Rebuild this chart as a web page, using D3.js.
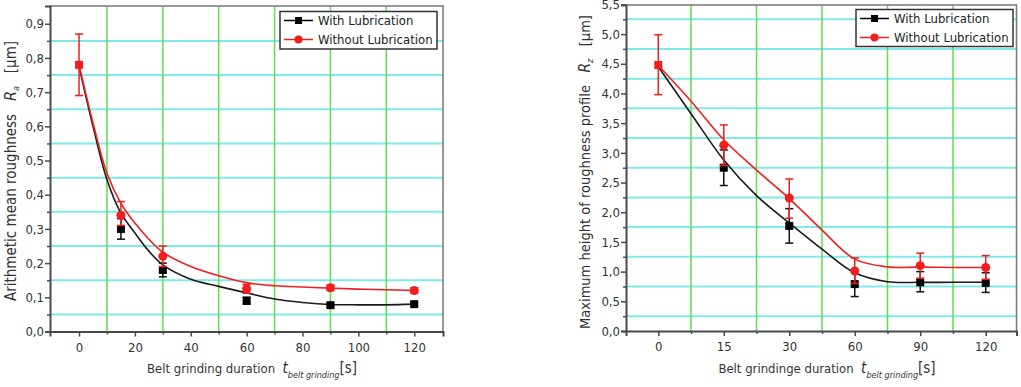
<!DOCTYPE html>
<html><head><meta charset="utf-8">
<script src="https://cdn.jsdelivr.net/npm/d3@7"></script>
<style>
body{margin:0;background:#fff;}
svg{display:block;font-family:"DejaVu Sans Condensed","DejaVu Sans",sans-serif;}
text{white-space:pre;}
</style></head><body>
<svg id="c" width="1021" height="387"></svg>
<script>
// ---------- Left chart: Ra ----------
const raX = [0, 15, 30, 60, 90, 120];
const raWith = [0.78, 0.30, 0.18, 0.09, 0.077, 0.08];
const raWithLo = [0.78, 0.27, 0.16, 0.08, 0.072, 0.075];
const raWithHi = [0.78, 0.33, 0.20, 0.10, 0.082, 0.085];
const raWithout = [0.78, 0.34, 0.22, 0.125, 0.128, 0.12];
const raWithoutLo = [0.69, 0.31, 0.19, 0.112, 0.12, 0.112];
const raWithoutHi = [0.87, 0.38, 0.25, 0.138, 0.136, 0.128];
const raFitX = [0, 5, 10, 15, 20, 25, 30, 40, 50, 60, 70, 80, 90, 100, 110, 120];
const raFitWith = [0.775, 0.60, 0.444, 0.346, 0.288, 0.235, 0.195, 0.153, 0.132, 0.113, 0.095, 0.085, 0.079, 0.078, 0.078, 0.08];
const raFitWithout = [0.78, 0.61, 0.463, 0.375, 0.317, 0.27, 0.232, 0.19, 0.163, 0.143, 0.134, 0.13, 0.127, 0.124, 0.122, 0.12];
const raYTicks = [0, 0.1, 0.2, 0.3, 0.4, 0.5, 0.6, 0.7, 0.8, 0.9];
const raXTicks = [0, 20, 40, 60, 80, 100, 120];

// ---------- Right chart: Rz ----------
const rzCats = ["0", "15", "30", "60", "90", "120"];
const rzWith = [4.48, 2.75, 1.77, 0.79, 0.82, 0.81];
const rzWithLo = [4.48, 2.45, 1.48, 0.58, 0.66, 0.65];
const rzWithHi = [4.48, 3.05, 2.06, 1.02, 1.0, 0.98];
const rzWithout = [4.48, 3.13, 2.24, 1.01, 1.10, 1.07];
const rzWithoutLo = [3.98, 2.79, 1.90, 0.80, 0.89, 0.87];
const rzWithoutHi = [4.99, 3.47, 2.56, 1.23, 1.31, 1.27];
const rzFitIdx = [0, 0.5, 1, 1.5, 2, 2.5, 3, 3.5, 4, 4.5, 5];
const rzFitWith = [4.45, 3.66, 2.88, 2.28, 1.82, 1.38, 0.98, 0.83, 0.82, 0.82, 0.82];
const rzFitWithout = [4.47, 3.87, 3.22, 2.71, 2.23, 1.70, 1.21, 1.08, 1.075, 1.07, 1.07];
const rzYTicks = [0, 0.5, 1, 1.5, 2, 2.5, 3, 3.5, 4, 4.5, 5, 5.5];

const seriesNames = ["With Lubrication", "Without Lubrication"];

const svg = d3.select("#c");
const CYAN = "#7eeaea", GREEN = "#5ede4e", FRAME = "#4a4a4a", RED = "#f21d1d";
const fmt = d => d3.format(".1f")(d).replace(".", ",");

function chart(cfg) {
  const {left, right, top, bottom, xDomain, yDomain} = cfg;
  const x = d3.scaleLinear().domain(xDomain).range([left, right]);
  const y = d3.scaleLinear().domain(yDomain).range([bottom, top]);
  const g = svg.append("g");

  // grids
  g.selectAll(".hg").data(cfg.hGrid).join("line")
    .attr("x1", left).attr("x2", right).attr("y1", d => y(d)).attr("y2", d => y(d))
    .attr("stroke", CYAN).attr("stroke-width", 2);
  g.selectAll(".vg").data(cfg.vGrid).join("line")
    .attr("y1", top).attr("y2", bottom).attr("x1", d => x(d)).attr("x2", d => x(d))
    .attr("stroke", GREEN).attr("stroke-width", 1.5);

  // frame top/right
  g.append("path").attr("d", `M${left},${top}H${right}V${bottom}`)
    .attr("fill", "none").attr("stroke", "#777").attr("stroke-width", 1.5);

  // y axis
  const ya = d3.axisLeft(y).tickValues(cfg.yTicks).tickFormat(fmt).tickSize(5).tickPadding(1);
  const yg = g.append("g").attr("transform", `translate(${left},0)`).call(ya);
  yg.select(".domain").attr("stroke", FRAME).attr("stroke-width", 2);
  yg.selectAll(".tick line").attr("stroke", FRAME).attr("stroke-width", 1.5);
  yg.selectAll("text").attr("font-size", 13).attr("fill", "#333")
    .attr("font-family", "DejaVu Sans Condensed");
  const yam = d3.axisLeft(y).tickValues(cfg.hGrid).tickFormat("").tickSize(3);
  const ymg = g.append("g").attr("transform", `translate(${left},0)`).call(yam);
  ymg.select(".domain").remove();
  ymg.selectAll(".tick line").attr("stroke", FRAME).attr("stroke-width", 1.5);

  // x axis
  const xa = d3.axisBottom(x).tickValues(cfg.xTicks).tickFormat(cfg.xFmt).tickSize(5).tickPadding(6);
  const xg = g.append("g").attr("transform", `translate(0,${bottom})`).call(xa);
  xg.select(".domain").attr("stroke", FRAME).attr("stroke-width", 2);
  xg.selectAll(".tick line").attr("stroke", FRAME).attr("stroke-width", 1.5);
  xg.selectAll("text").attr("font-size", 13).attr("fill", "#333")
    .attr("font-family", "DejaVu Sans Condensed");
  const xam = d3.axisBottom(x).tickValues(cfg.vGrid).tickFormat("").tickSize(3);
  const xmg = g.append("g").attr("transform", `translate(0,${bottom})`).call(xam);
  xmg.select(".domain").remove();
  xmg.selectAll(".tick line").attr("stroke", FRAME).attr("stroke-width", 1.5);

  // fit curves
  const line = d3.line().x(d => x(d[0])).y(d => y(d[1])).curve(d3.curveCatmullRom.alpha(0.5));
  const fw = cfg.fitX.map((v, i) => [v, cfg.fitWith[i]]);
  const fo = cfg.fitX.map((v, i) => [v, cfg.fitWithout[i]]);
  g.append("path").attr("d", line(fw)).attr("fill", "none").attr("stroke", "#1a1a1a").attr("stroke-width", 1.6);
  g.append("path").attr("d", line(fo)).attr("fill", "none").attr("stroke", RED).attr("stroke-width", 1.6);

  // error bars + markers
  function errs(xs, lo, hi, color) {
    const data = xs.map((v, i) => ({x: v, lo: lo[i], hi: hi[i]})).filter(d => d.hi > d.lo);
    const eg = g.append("g").attr("stroke", color).attr("stroke-width", 1.5);
    eg.selectAll(".v").data(data).join("line")
      .attr("x1", d => x(d.x)).attr("x2", d => x(d.x)).attr("y1", d => y(d.lo)).attr("y2", d => y(d.hi));
    eg.selectAll(".t").data(data).join("line")
      .attr("x1", d => x(d.x) - 4).attr("x2", d => x(d.x) + 4).attr("y1", d => y(d.hi)).attr("y2", d => y(d.hi));
    eg.selectAll(".b").data(data).join("line")
      .attr("x1", d => x(d.x) - 4).attr("x2", d => x(d.x) + 4).attr("y1", d => y(d.lo)).attr("y2", d => y(d.lo));
  }
  const pw = cfg.px.map((v, i) => ({x: v, y: cfg.with[i], same: cfg.with[i] === cfg.without[i]}));
  const po = cfg.px.map((v, i) => ({x: v, y: cfg.without[i], same: cfg.with[i] === cfg.without[i]}));
  errs(cfg.px, cfg.withLo, cfg.withHi, "#111");
  g.selectAll(".sq").data(pw).join("rect")
    .attr("x", d => x(d.x) - 4).attr("y", d => y(d.y) - 4).attr("width", 8).attr("height", 8)
    .attr("fill", d => d.same ? RED : "#000");
  errs(cfg.px, cfg.withoutLo, cfg.withoutHi, RED);
  g.selectAll(".ci").data(po.filter(d => !d.same)).join("circle")
    .attr("cx", d => x(d.x)).attr("cy", d => y(d.y)).attr("r", 4.5).attr("fill", RED);

  // legend
  const L = cfg.legend;
  g.append("rect").attr("x", L.x).attr("y", L.y).attr("width", L.w).attr("height", L.h)
    .attr("fill", "#fff").attr("stroke", "#333").attr("stroke-width", 1.5);
  seriesNames.forEach((name, i) => {
    const cy = L.y + 9 + i * 19;
    const col = i === 0 ? "#000" : RED;
    g.append("line").attr("x1", L.x + 4).attr("x2", L.x + 33).attr("y1", cy).attr("y2", cy)
      .attr("stroke", col).attr("stroke-width", 1.5);
    if (i === 0) g.append("rect").attr("x", L.x + 15).attr("y", cy - 3.5).attr("width", 7).attr("height", 7).attr("fill", col);
    else g.append("circle").attr("cx", L.x + 18.5).attr("cy", cy).attr("r", 4).attr("fill", col);
    g.append("text").attr("x", L.x + 38).attr("y", cy + 4.5).attr("font-size", 13).attr("fill", "#222")
      .attr("font-family", "DejaVu Sans Condensed").text(name);
  });

  // y title
  const fs = cfg.yTitleSize;
  const yt = g.append("text").attr("transform", `translate(${cfg.yTitleX},${cfg.yTitleY}) rotate(-90)`)
    .attr("text-anchor", "middle").attr("font-size", fs).attr("fill", "#333");
  yt.append("tspan").text(cfg.yTitle + "   ");
  yt.append("tspan").attr("font-style", "italic").attr("font-size", fs + 1).text("R");
  yt.append("tspan").attr("font-style", "italic").attr("font-size", 9).attr("dy", 3).text(cfg.ySub);
  yt.append("tspan").attr("dy", -3).text("   [µm]");

  // x title
  const xt = g.append("text").attr("x", cfg.xTitleX).attr("y", 373)
    .attr("text-anchor", "middle").attr("font-size", 13).attr("fill", "#333");
  xt.append("tspan").text(cfg.xTitle + "  ");
  xt.append("tspan").attr("font-style", "italic").attr("font-size", 15).text("t");
  xt.append("tspan").attr("font-style", "italic").attr("font-size", 9).attr("dy", 5).text("belt grinding");
  xt.append("tspan").attr("dy", -5).attr("font-size", 15).text("[s]");
}

chart({
  left: 50, right: 443, top: 6, bottom: 331.5,
  xDomain: [-10.4, 130.3], yDomain: [0, 0.952],
  hGrid: [0.05, 0.15, 0.25, 0.35, 0.45, 0.55, 0.65, 0.75, 0.85],
  vGrid: [10, 30, 50, 70, 90, 110],
  yTicks: raYTicks, xTicks: raXTicks, xFmt: d => d,
  px: raX, with: raWith, withLo: raWithLo, withHi: raWithHi,
  without: raWithout, withoutLo: raWithoutLo, withoutHi: raWithoutHi,
  fitX: raFitX, fitWith: raFitWith, fitWithout: raFitWithout,
  legend: {x: 280, y: 11.5, w: 157, h: 37.5},
  yTitle: "Arithmetic mean roughness", ySub: "a", yTitleX: 16, yTitleY: 171, yTitleSize: 15,
  xTitle: "Belt grinding duration", xTitleX: 252
});

const rzIdx = rzCats.map((c, i) => i);
chart({
  left: 626, right: 1016.5, top: 5, bottom: 331,
  xDomain: [-0.493, 5.47], yDomain: [0, 5.49],
  hGrid: [0.25, 0.75, 1.25, 1.75, 2.25, 2.75, 3.25, 3.75, 4.25, 4.75, 5.25],
  vGrid: [0.5, 1.5, 2.5, 3.5, 4.5],
  yTicks: rzYTicks, xTicks: rzIdx, xFmt: i => rzCats[i],
  px: rzIdx, with: rzWith, withLo: rzWithLo, withHi: rzWithHi,
  without: rzWithout, withoutLo: rzWithoutLo, withoutHi: rzWithoutHi,
  fitX: rzFitIdx, fitWith: rzFitWith, fitWithout: rzFitWithout,
  legend: {x: 856, y: 9.5, w: 157, h: 37},
  yTitle: "Maximum height of roughness profile", ySub: "z", yTitleX: 590, yTitleY: 172, yTitleSize: 14.5,
  xTitle: "Belt grindinge duration", xTitleX: 827
});
</script>
</body></html>
